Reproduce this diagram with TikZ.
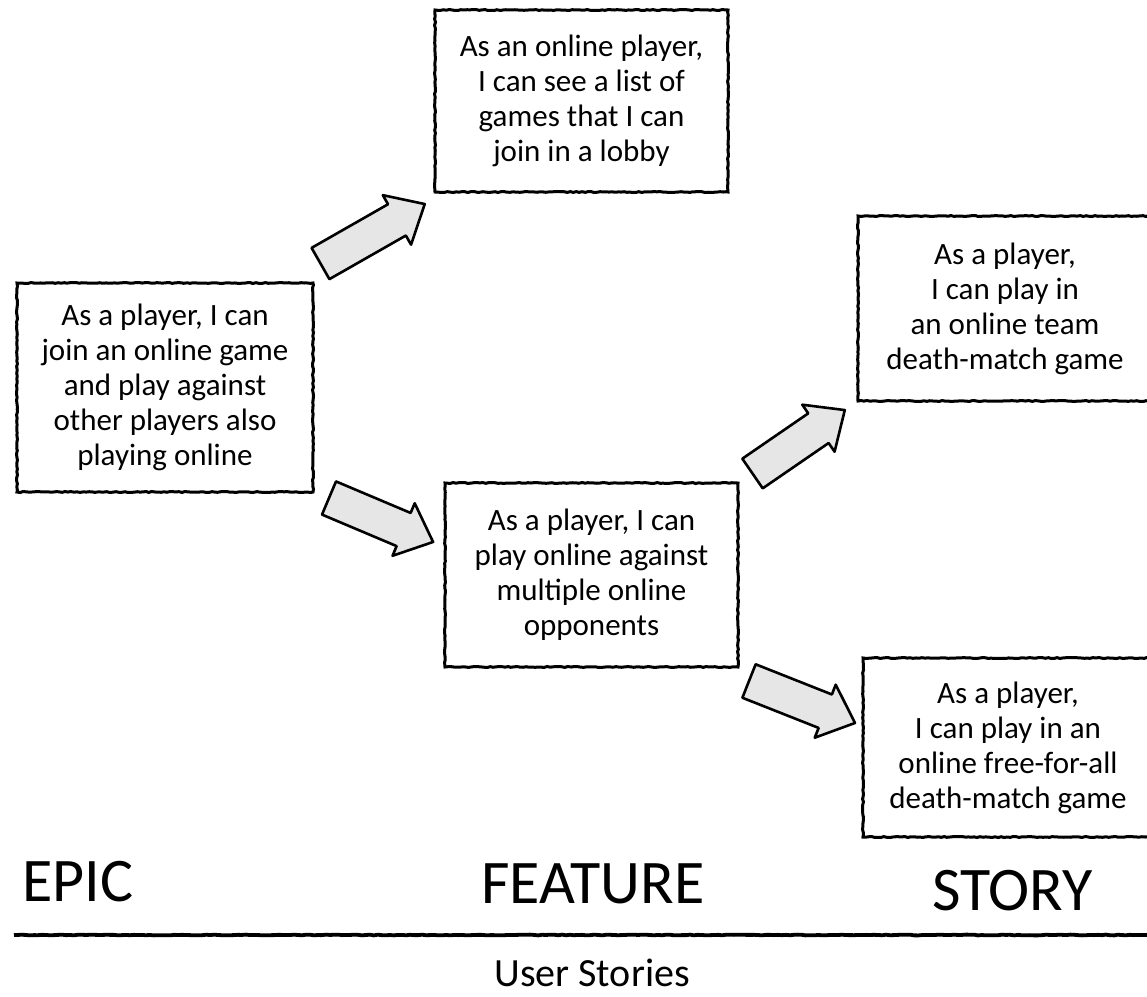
\documentclass[tikz,border=0pt]{standalone}
\usepackage{fontspec}
\setmainfont{Carlito}
\usetikzlibrary{decorations.pathmorphing}
\definecolor{arrfill}{HTML}{E6E6E6}
\tikzset{
  story/.style={draw=black, line width=3pt, fill=white, align=center,
    font=\fontsize{31}{35}\selectfont, inner sep=0pt,
    decorate, decoration={random steps, segment length=3pt, amplitude=0.5pt}},
  blockarr/.style={draw=black, line width=2.6pt, line join=round, fill=arrfill},
  levellabel/.style={font=\fontsize{62}{70}\selectfont, inner sep=0pt, anchor=base west},
}
\newcommand\blockarrow[3]{% tail coordinate, angle, length
  \begin{scope}[shift={(#1)}, rotate=#2]
    \draw[blockarr] (0,-18) -- (#3-32,-18) -- (#3-32,-28.5) -- (#3,0)
      -- (#3-32,28.5) -- (#3-32,18) -- (0,18) -- cycle;
  \end{scope}}
\begin{document}
\begin{tikzpicture}[x=1pt, y=-1pt]
\useasboundingbox (0,0) rectangle (1147,996);
\clip (0,0) rectangle (1147,996);

% boxes
\node[story, minimum width=296pt, minimum height=209pt] (epic) at (165,387.5)
  {As a player, I can\\join an online game\\and play against\\other players also\\playing online};
\node[story, minimum width=293pt, minimum height=182pt] (lobby) at (581.5,101)
  {As an online player,\\I can see a list of\\games that I can\\join in a lobby};
\node[story, minimum width=293pt, minimum height=184pt] (feature) at (591.5,575)
  {As a player, I can\\play online against\\multiple online\\opponents};
\node[story, minimum width=294pt, minimum height=185pt] (team) at (1005,308.5)
  {As a player,\\I can play in\\an online team\\death-match game};
\node[story, minimum width=290pt, minimum height=179pt] (ffa) at (1008,747.5)
  {As a player,\\I can play in an\\online free-for-all\\death-match game};

% block arrows
\coordinate (a1) at (320.5,263.5);
\coordinate (a2) at (329,498);
\coordinate (a3) at (752.5,473.5);
\coordinate (a4) at (749,681);
\blockarrow{a1}{29.7}{120}
\blockarrow{a2}{-22.9}{113}
\blockarrow{a3}{34.5}{112}
\blockarrow{a4}{-21.6}{114}

% level labels
\node[levellabel] (lepic) at (22,901) {EPIC};
\node[levellabel] (lfeat) at (481,903) {FEATURE};
\node[levellabel] (lstory) at (932,910) {STORY};

% bottom rule and caption
\coordinate (ruleL) at (14,935);
\coordinate (ruleR) at (1147,935);
\draw[line width=3.8pt, decorate, decoration={random steps, segment length=4pt, amplitude=0.4pt}] (ruleL) -- (ruleR);
\node[font=\fontsize{40}{44}\selectfont, inner sep=0pt, anchor=base] (caption) at (592,986) {User Stories};
\end{tikzpicture}
\end{document}
